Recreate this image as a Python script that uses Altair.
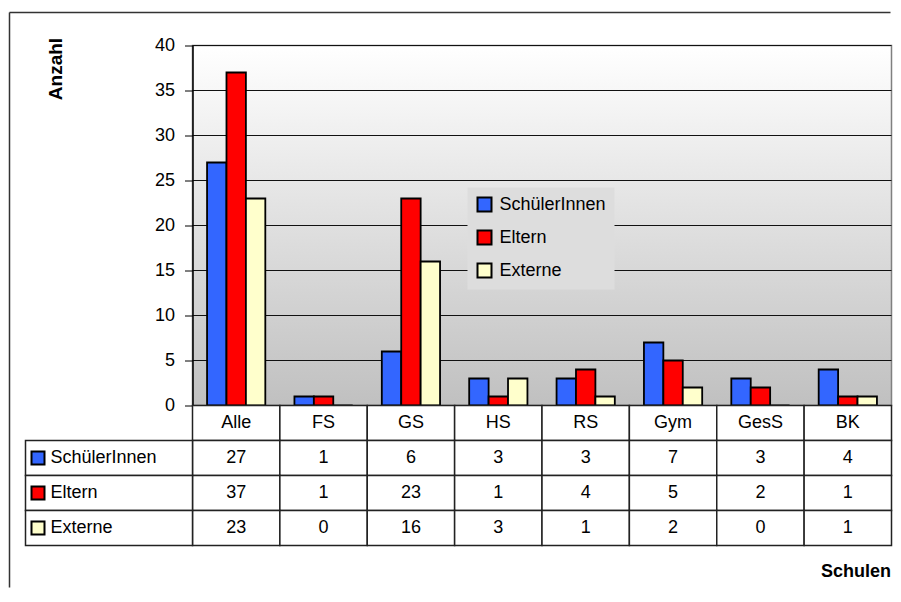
import altair as alt
import pandas as pd

categories = ["Alle", "FS", "GS", "HS", "RS", "Gym", "GesS", "BK"]
series = ["SchülerInnen", "Eltern", "Externe"]
schueler = [27, 1, 6, 3, 3, 7, 3, 4]
eltern = [37, 1, 23, 1, 4, 5, 2, 1]
externe = [23, 0, 16, 3, 1, 2, 0, 1]
colors = ["#3366ff", "#ff0000", "#ffffcc"]
y_ticks = [0, 5, 10, 15, 20, 25, 30, 35, 40]
header_key = "Schule"

FONT = "Liberation Sans"
W, H = 699, 360
ROW_H = 35

rows = []
for s, vals in zip(series, [schueler, eltern, externe]):
    for c, v in zip(categories, vals):
        rows.append({"Schule": c, "Gruppe": s, "Anzahl": v})
df = pd.DataFrame(rows)

y_axis = alt.Axis(values=y_ticks, grid=False, title="Anzahl", zindex=1,
                  domainColor="black", domainWidth=1.5,
                  tickColor="black", tickSize=8, tickWidth=1,
                  labelFontSize=18, labelColor="black", labelPadding=10,
                  titleFontSize=19, titleFontWeight="bold", titleColor="black",
                  titleX=-137, titleY=23, titleAngle=270,
                  titleAlign="center", titleBaseline="middle")
y_scale = alt.Scale(domain=[0, 40], nice=False)

# ---------- bar chart ----------
bg = alt.Chart(pd.DataFrame({"k": [0]})).mark_rect(
    color=alt.LinearGradient(
        gradient="linear",
        stops=[alt.GradientStop(color="#ffffff", offset=0),
               alt.GradientStop(color="#c0c0c0", offset=1)],
        x1=0, x2=0, y1=0, y2=1),
    stroke="#808080", strokeWidth=1.5
).encode(x=alt.value(0), x2=alt.value(W), y=alt.value(0), y2=alt.value(H))

grid = alt.Chart(pd.DataFrame({"Anzahl": y_ticks[1:]})).mark_rule(
    color="#111111", strokeWidth=1
).encode(
    y=alt.Y("Anzahl:Q", scale=y_scale, axis=y_axis),
    x=alt.value(0), x2=alt.value(W)
)

bars = alt.Chart(df).mark_bar(stroke="black", strokeWidth=1.8).encode(
    x=alt.X("Schule:N", sort=categories,
            scale=alt.Scale(domain=categories, paddingInner=0, paddingOuter=0),
            axis=alt.Axis(labels=False, ticks=False, title=None, domainColor="black",
                          domainWidth=1.5, zindex=1)),
    xOffset=alt.XOffset("Gruppe:N", sort=series,
                        scale=alt.Scale(domain=series, paddingInner=0, paddingOuter=0.75)),
    y=alt.Y("Anzahl:Q", scale=y_scale, axis=y_axis),
    color=alt.Color("Gruppe:N", sort=series,
                    scale=alt.Scale(domain=series, range=colors),
                    legend=alt.Legend(orient="none", legendX=275, legendY=142,
                                      title=None, symbolType="square", symbolSize=196,
                                      symbolStrokeColor="black", symbolStrokeWidth=2,
                                      symbolOpacity=1,
                                      labelFontSize=18, labelColor="black", labelOffset=6,
                                      labelLimit=0, rowPadding=11, padding=8,
                                      fillColor="#dddddd"))
)

frame = alt.Chart(pd.DataFrame({"k": [0]}))
frame_top = frame.mark_rule(color="#333333", strokeWidth=1.5).encode(
    x=alt.value(-183), x2=alt.value(698), y=alt.value(-33))
frame_left = frame.mark_rule(color="#333333", strokeWidth=1.5).encode(
    x=alt.value(-183), y=alt.value(-33), y2=alt.value(542))

top = alt.layer(bg, grid, bars, frame_top, frame_left).properties(width=W, height=H)

# ---------- data table ----------
table_rows = [header_key] + series
cells = []
for c in categories:
    cells.append({"Schule": c, "Zeile": header_key, "Text": c})
for s, vals in zip(series, [schueler, eltern, externe]):
    for c, v in zip(categories, vals):
        cells.append({"Schule": c, "Zeile": s, "Text": str(v)})
cells_df = pd.DataFrame(cells)
labels_df = pd.DataFrame({"Zeile": series})

xt = alt.X("Schule:N", sort=categories,
           scale=alt.Scale(domain=categories, paddingInner=0, paddingOuter=0),
           axis=alt.Axis(title="Schulen", labels=False, ticks=False, domain=False,
                         titleX=698, titleY=26, titleAlign="right", titleBaseline="middle",
                         titleFontSize=18, titleFontWeight="bold", titleColor="black"))
yt = alt.Y("Zeile:N", sort=table_rows,
           scale=alt.Scale(domain=table_rows, paddingInner=0, paddingOuter=0), axis=None)

cell_rects = alt.Chart(cells_df).mark_rect(fill="white", stroke="#222222", strokeWidth=1.5).encode(
    x=xt, y=yt)
cell_text = alt.Chart(cells_df).mark_text(fontSize=18, color="black").encode(
    x=xt, y=yt, text="Text:N")
label_rects = alt.Chart(labels_df).mark_rect(fill="white", stroke="#222222", strokeWidth=1.5).encode(
    y=yt, x=alt.value(-167), x2=alt.value(0))
label_text = alt.Chart(labels_df).mark_text(fontSize=18, color="black", align="left").encode(
    y=yt, x=alt.value(-142), text="Zeile:N")
label_sym = alt.Chart(labels_df).mark_square(size=169, stroke="black", strokeWidth=2,
                                             opacity=1, filled=True).encode(
    y=yt, x=alt.value(-154.5),
    fill=alt.Fill("Zeile:N", scale=alt.Scale(domain=series, range=colors), legend=None))

table = alt.layer(cell_rects, cell_text, label_rects, label_text, label_sym).properties(
    width=W, height=ROW_H * 4)

chart = alt.vconcat(top, table, spacing=0, bounds="flush").properties(
    padding={"left": 0.5, "top": 3.5, "right": 0, "bottom": 0}
).configure(font=FONT).configure_view(stroke=None)

chart.save("out.html", embed_options={"renderer": "svg", "actions": False})
